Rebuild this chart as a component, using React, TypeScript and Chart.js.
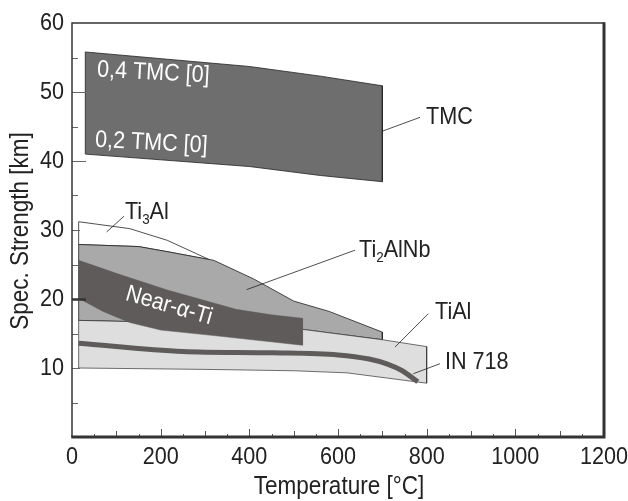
import { useEffect, useRef } from 'react';
import { Chart, registerables } from 'chart.js';

Chart.register(...registerables);

const FONT = "'Liberation Sans', Arial, Helvetica, sans-serif";
const SX = 0.9; // horizontal condensing of the lettering

// Axis ticks
const xTickValues = [0, 200, 400, 600, 800, 1000, 1200];
const yTickValues = [10, 20, 30, 40, 50, 60];
const xTitle = 'Temperature [°C]';
const yTitle = 'Spec. Strength [km]';

// Band outlines [temperature °C, specific strength km]
const tmcUpper = [[30, 55.8], [400, 53.7], [560, 52.3], [700, 50.9]];
const tmcLower = [[30, 41.0], [400, 39.2], [560, 37.9], [700, 37.0]];
const ti3alUpper = [[15, 31.2], [130, 30.2], [215, 28.5], [310, 25.7]];
const ti2alnbUpper = [[15, 27.9], [150, 27.6], [220, 26.8], [320, 25.6], [410, 22.9], [500, 19.7], [580, 18.2], [700, 15.2]];
const tialUpper = [[15, 16.9], [150, 16.7], [350, 16.2], [520, 15.6], [700, 14.1], [800, 13.1]];
const tialLower = [[15, 10.0], [300, 9.8], [500, 9.6], [620, 9.3], [800, 7.8]];
const nearAlphaUpper = [[15, 25.6], [110, 23.5], [215, 21.3], [370, 18.5], [450, 17.7], [520, 17.2]];
const nearAlphaLower = [[15, 20.1], [70, 18.2], [130, 16.6], [200, 15.5], [320, 14.7], [520, 13.3]];
const in718Line = [[15, 13.6], [250, 12.4], [450, 12.2], [600, 11.9], [670, 11.3], [710, 10.6], [745, 9.6], [780, 8.0]];

// Annotations (data coordinates)
const leaderLines = [
  [[700.8, 44.34], [785, 46.33]],
  [[78.3, 29.72], [117.3, 32.0]],
  [[394, 21.36], [638.3, 27.07]],
  [[728.6, 13.03], [803.7, 17.88]],
  [[769.8, 9.17], [830, 10.62]],
];

type Part = { t: string; sub?: boolean };
const textLabels: { parts: Part[]; x: number; y: number; color: string; rot?: number; center?: boolean; size: number }[] = [
  { parts: [{ t: 'TMC' }], x: 798.5, y: 46.37, color: '#222', size: 24 },
  { parts: [{ t: 'Ti' }, { t: '3', sub: true }, { t: 'Al' }], x: 119.5, y: 32.58, color: '#222', size: 24 },
  { parts: [{ t: 'Ti' }, { t: '2', sub: true }, { t: 'AlNb' }], x: 647.4, y: 27.07, color: '#222', size: 24 },
  { parts: [{ t: 'TiAl' }], x: 818.8, y: 18.07, color: '#222', size: 24 },
  { parts: [{ t: 'IN 718' }], x: 841.3, y: 10.86, color: '#222', size: 24 },
  { parts: [{ t: '0,4 TMC [0]' }], x: 56.4, y: 53.19, color: '#ffffff', rot: 3, size: 24 },
  { parts: [{ t: '0,2 TMC [0]' }], x: 51.9, y: 43.03, color: '#ffffff', rot: 3, size: 24 },
  { parts: [{ t: 'Near-α-Ti' }], x: 218.8, y: 19.0, color: '#ffffff', rot: 16, center: true, size: 23.5 },
];

const toPts = (arr: number[][]) => arr.map(([x, y]) => ({ x, y }));
const poly = (upper: number[][], lower: number[][]) =>
  toPts([...upper, ...[...lower].reverse(), upper[0]]);

function drawParts(
  ctx: CanvasRenderingContext2D, parts: Part[], x: number, y: number, size: number,
  color: string, align: 'left' | 'center' | 'right' = 'left', rot = 0,
) {
  ctx.save();
  ctx.translate(x, y);
  if (rot) ctx.rotate((rot * Math.PI) / 180);
  ctx.scale(SX, 1);
  let total = 0;
  for (const p of parts) {
    ctx.font = `${p.sub ? size * 0.62 : size}px ${FONT}`;
    total += ctx.measureText(p.t).width;
  }
  let cx = align === 'center' ? -total / 2 : align === 'right' ? -total : 0;
  ctx.fillStyle = color;
  ctx.textBaseline = 'middle';
  ctx.textAlign = 'left';
  for (const p of parts) {
    ctx.font = `${p.sub ? size * 0.62 : size}px ${FONT}`;
    ctx.fillText(p.t, cx, p.sub ? size * 0.32 : 0);
    cx += ctx.measureText(p.t).width;
  }
  ctx.restore();
}

const decorPlugin = {
  id: 'decor',
  afterDatasetsDraw(chart: any) {
    const { ctx, chartArea: a, scales } = chart;
    const xs = scales.x;
    const ys = scales.y;
    ctx.save();
    // leader lines
    ctx.strokeStyle = '#222';
    ctx.lineWidth = 0.8;
    for (const [p1, p2] of leaderLines) {
      ctx.beginPath();
      ctx.moveTo(xs.getPixelForValue(p1[0]), ys.getPixelForValue(p1[1]));
      ctx.lineTo(xs.getPixelForValue(p2[0]), ys.getPixelForValue(p2[1]));
      ctx.stroke();
    }
    // labels inside the plot
    for (const l of textLabels) {
      drawParts(ctx, l.parts, xs.getPixelForValue(l.x), ys.getPixelForValue(l.y), l.size, l.color,
        l.center ? 'center' : 'left', l.rot || 0);
    }
    // inward tick marks, x
    for (let v = 50; v < 1200; v += 50) {
      const len = v % 200 === 0 ? 8 : v % 100 === 0 ? 6 : 3;
      const px = Math.round(xs.getPixelForValue(v)) + 0.5;
      ctx.strokeStyle = '#555';
      ctx.lineWidth = 1;
      ctx.beginPath();
      ctx.moveTo(px, a.bottom);
      ctx.lineTo(px, a.bottom - len);
      ctx.stroke();
    }
    // inward tick marks, y
    for (let v = 5; v < 60; v += 5) {
      const major = v % 10 === 0;
      const len = major ? (v === 20 || v === 40 || v === 50 ? 14 : 8) : 6;
      const py = Math.round(ys.getPixelForValue(v)) + 0.5;
      ctx.strokeStyle = v === 20 ? '#333' : '#666';
      ctx.lineWidth = v === 20 ? 2.5 : 1;
      ctx.beginPath();
      ctx.moveTo(a.left, py);
      ctx.lineTo(a.left + len, py);
      ctx.stroke();
    }
    // frame
    ctx.strokeStyle = '#333';
    ctx.lineWidth = 1.5;
    ctx.beginPath();
    ctx.moveTo(a.left, a.bottom);
    ctx.lineTo(a.left, a.top);
    ctx.lineTo(a.right, a.top);
    ctx.stroke();
    ctx.lineWidth = 3;
    ctx.beginPath();
    ctx.moveTo(a.right, a.top - 0.75);
    ctx.lineTo(a.right, a.bottom);
    ctx.lineTo(a.left - 0.75, a.bottom);
    ctx.stroke();
    // tick labels, from the scales' ticks
    for (const t of xs.ticks) {
      drawParts(ctx, [{ t: String(t.value) }], xs.getPixelForValue(t.value), a.bottom + 20, 24, '#222', 'center');
    }
    for (const t of ys.ticks) {
      if (t.value === 0) continue;
      drawParts(ctx, [{ t: String(t.value) }], a.left - 8, ys.getPixelForValue(t.value), 24, '#222', 'right');
    }
    // axis titles
    drawParts(ctx, [{ t: xTitle }], (a.left + a.right) / 2 + 1, 487, 25, '#222', 'center');
    drawParts(ctx, [{ t: yTitle }], 21, (a.top + a.bottom) / 2 + 1, 25, '#222', 'center', -90);
    ctx.restore();
  },
};

export default function App() {
  const ref = useRef<HTMLCanvasElement | null>(null);
  useEffect(() => {
    document.body.style.margin = '0';
    const canvas = ref.current;
    if (!canvas) return;
    const chart = new Chart(canvas, {
      type: 'line',
      data: {
        datasets: [
          { label: 'TMC', data: poly(tmcUpper, tmcLower), fill: 'shape', backgroundColor: '#6e6e6e', borderColor: '#222', borderWidth: 0.8, order: 1 },
          { label: 'Near-α-Ti', data: poly(nearAlphaUpper, nearAlphaLower), fill: 'shape', backgroundColor: '#5f5b5b', borderColor: '#5f5b5b', borderWidth: 0.5, order: 2 },
          { label: 'IN 718', data: toPts(in718Line), fill: false, borderColor: '#5f5b5b', borderWidth: 5, cubicInterpolationMode: 'monotone', order: 3 },
          { label: 'TiAl', data: poly(tialUpper, tialLower), fill: 'shape', backgroundColor: '#dedede', borderColor: '#333', borderWidth: 0.7, order: 4 },
          { label: 'Ti2AlNb', data: poly(ti2alnbUpper, tialUpper.filter((p) => p[0] <= 700)), fill: 'shape', backgroundColor: '#a9a9a9', borderColor: '#222', borderWidth: 0.8, order: 5 },
          { label: 'Ti3Al', data: poly(ti3alUpper, ti2alnbUpper.filter((p) => p[0] < 310)), fill: 'shape', backgroundColor: '#ffffff', borderColor: '#222', borderWidth: 0.8, order: 6 },
        ] as any,
      },
      options: {
        animation: false,
        responsive: true,
        maintainAspectRatio: false,
        events: [],
        layout: { padding: { left: 0, top: 23, right: 24, bottom: 0 } },
        elements: { point: { radius: 0 }, line: { tension: 0 } },
        plugins: { legend: { display: false }, tooltip: { enabled: false } },
        scales: {
          x: {
            type: 'linear',
            min: 0,
            max: 1200,
            afterBuildTicks: (s: any) => { s.ticks = xTickValues.map((v) => ({ value: v })); },
            ticks: { display: false },
            grid: { display: false },
            border: { display: false },
            title: { display: false, text: xTitle },
            afterFit: (s: any) => { s.height = 64; },
          },
          y: {
            type: 'linear',
            min: 0,
            max: 60,
            afterBuildTicks: (s: any) => { s.ticks = yTickValues.map((v) => ({ value: v })); },
            ticks: { display: false },
            grid: { display: false },
            border: { display: false },
            title: { display: false, text: yTitle },
            afterFit: (s: any) => { s.width = 72; },
          },
        },
      } as any,
      plugins: [decorPlugin],
    });
    return () => chart.destroy();
  }, []);
  return (
    <div style={{ position: 'fixed', left: 0, top: 0, width: 628, height: 501 }}>
      <canvas ref={ref} />
    </div>
  );
}
